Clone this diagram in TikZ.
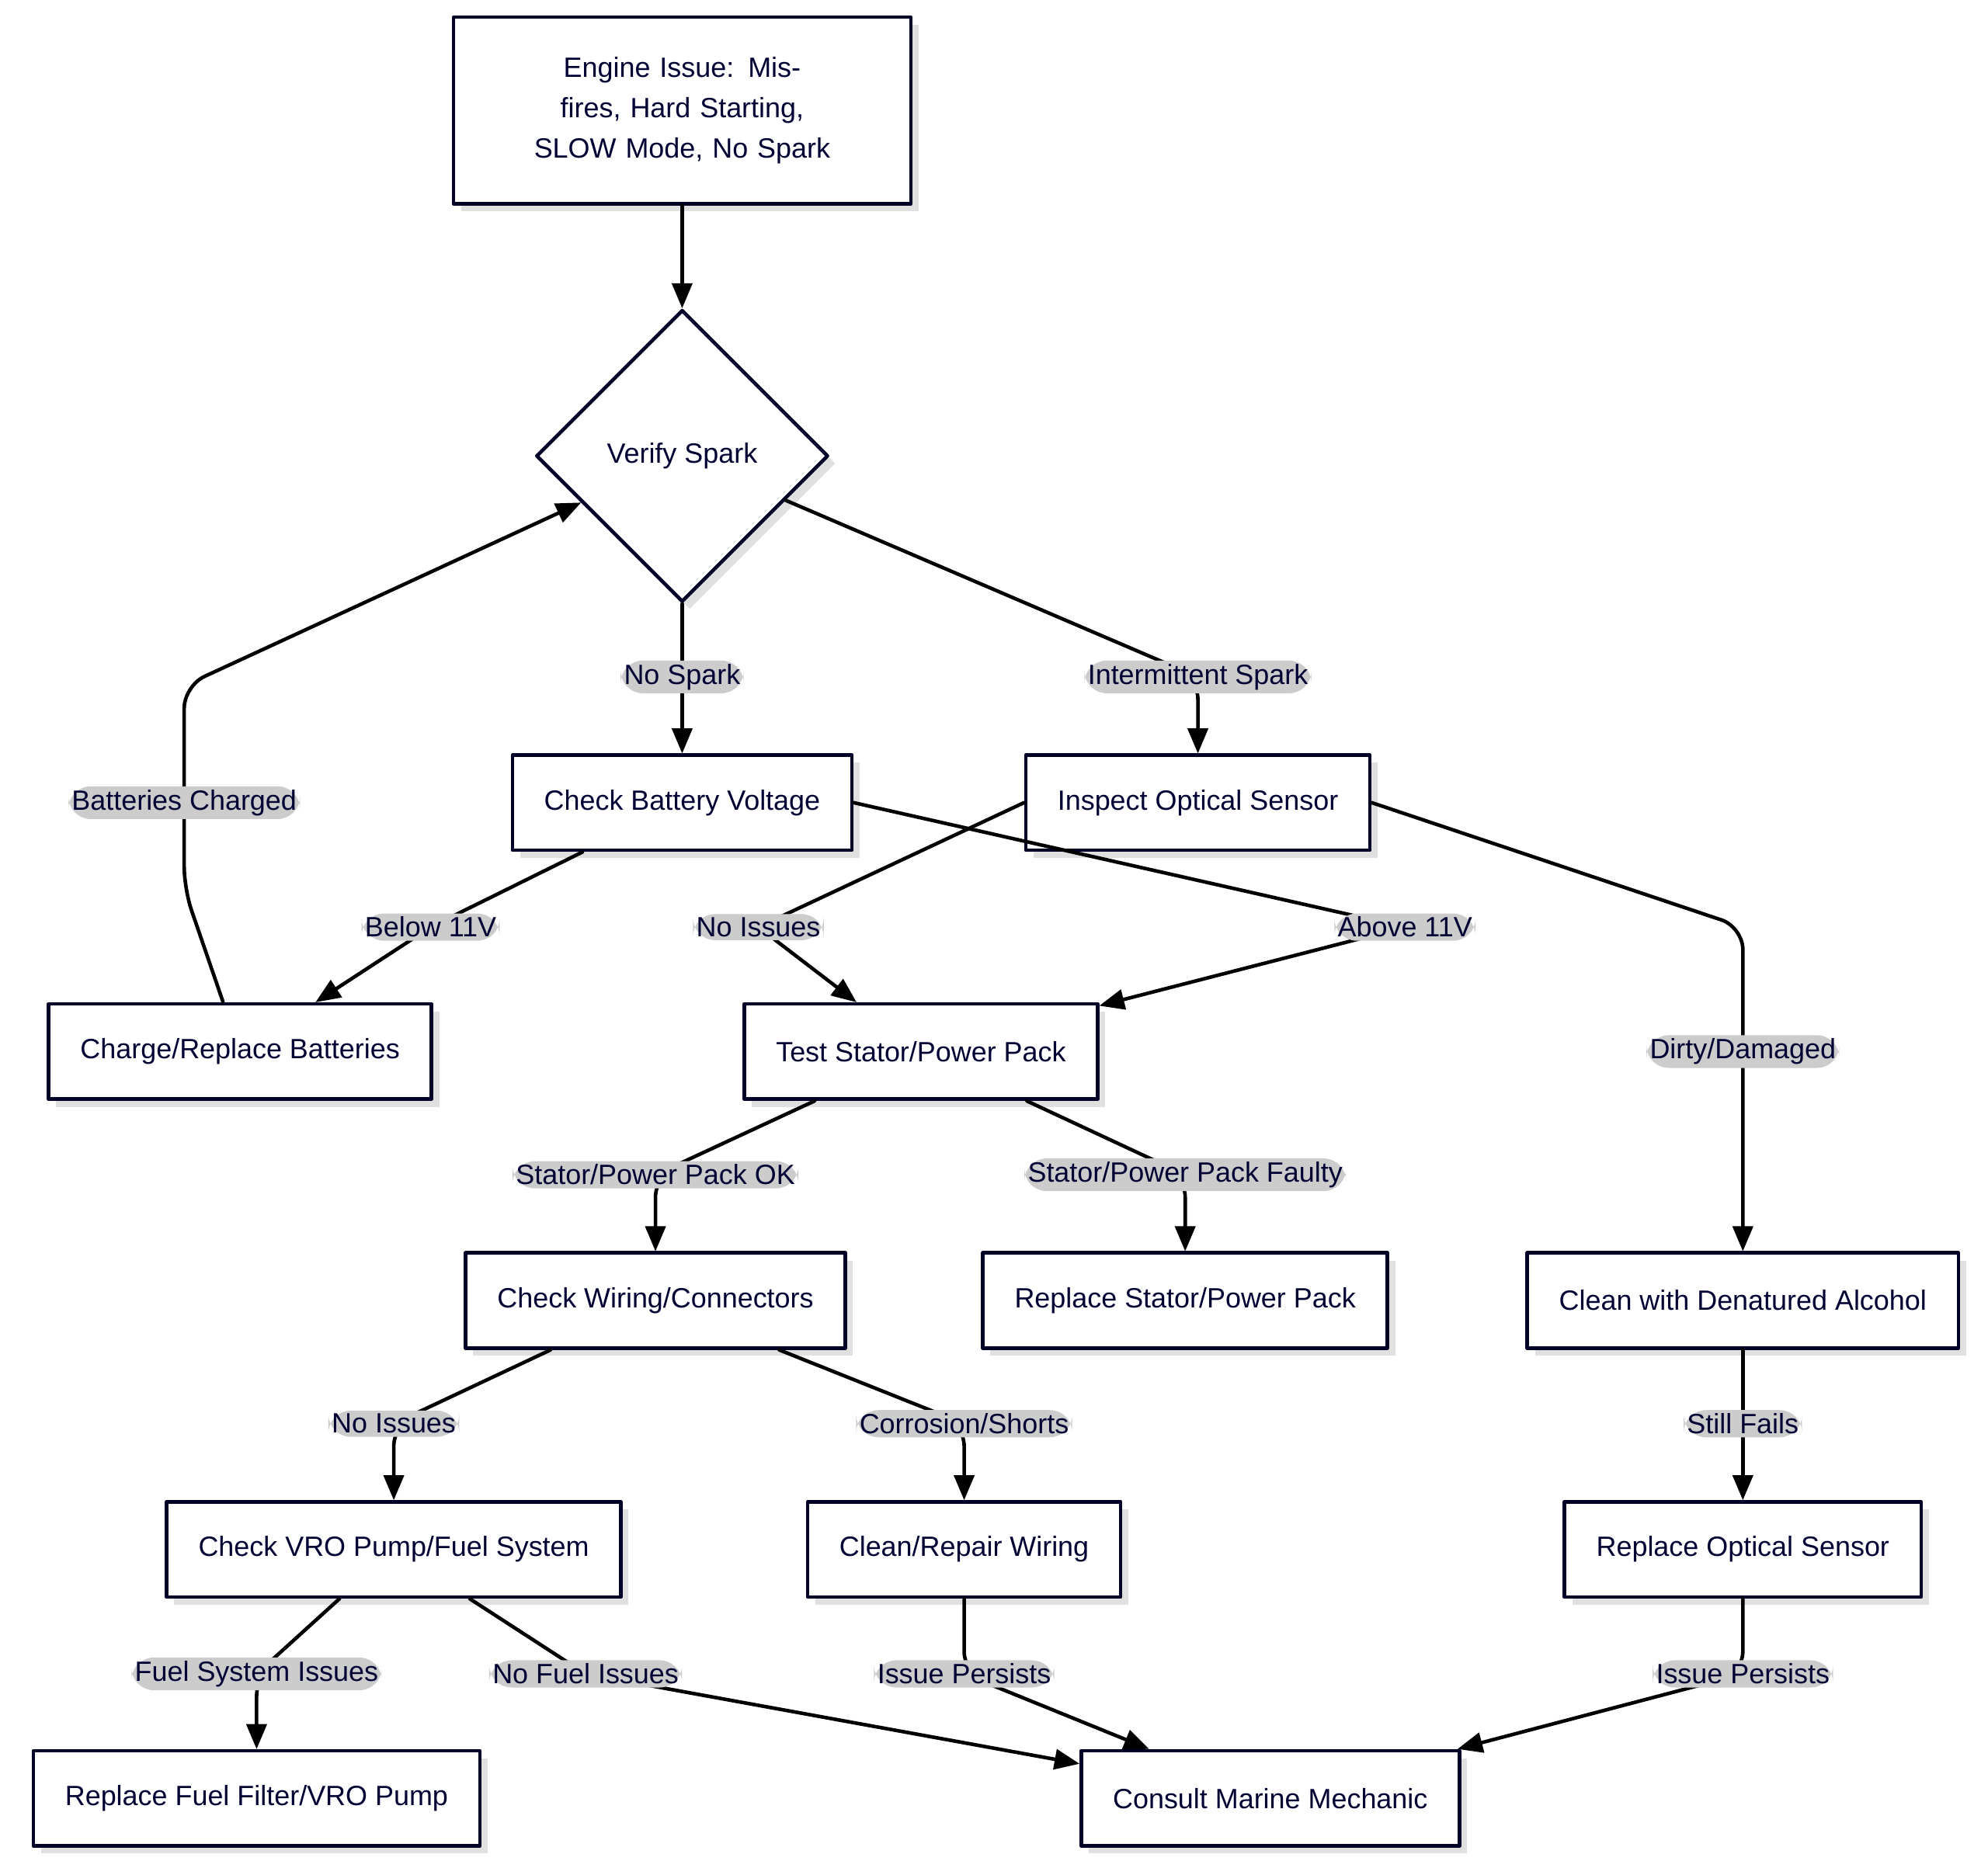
\documentclass[tikz,border=0pt]{standalone}
\usepackage{fontspec}
\setmainfont{Liberation Sans}
\usetikzlibrary{arrows}
\usetikzlibrary{shapes.geometric}

\tikzset{
  box/.style={draw=black!85!blue, line width=1.6pt, fill=white, minimum height=1.5cm, inner xsep=0.5cm, font=\fontsize{12.5}{18}\selectfont, text=black!80!blue,
    preaction={fill=black!12, draw=none, transform canvas={shift={(0.12cm,-0.12cm)}}}},
  choice/.style={box, diamond, aspect=1, minimum width=4.6cm, minimum height=4.6cm, inner sep=0pt},
  flow/.style={->, line width=1.6pt, rounded corners=10pt},
  lbl/.style={fill=black!20, inner sep=1.5pt, font=\fontsize{12.5}{15}\selectfont, text=black!80!blue}
}

\begin{document}
\begin{tikzpicture}[line cap=round,line join=round,>=triangle 45,x=0.02cm,y=-0.02cm]
\useasboundingbox (0,0) rectangle (1565,1465);
% nodes
\node[box, text width=6.2cm, align=center, minimum height=2.94cm] (issue) at (537,87) {Engine Issue: Misfires, Hard Starting, SLOW Mode, No Spark};
\node[choice] (spark) at (537,359) {Verify Spark};
\node[box] (battery) at (537,632) {Check Battery Voltage};
\node[box] (optical) at (943,632) {Inspect Optical Sensor};
\node[box] (charge) at (189,828) {Charge/Replace Batteries};
\node[box] (stator) at (725,828) {Test Stator/Power Pack};
\node[box] (alcohol) at (1372,1024) {Clean with Denatured Alcohol};
\node[box] (wiring) at (516,1024) {Check Wiring/Connectors};
\node[box] (newstator) at (933,1024) {Replace Stator/Power Pack};
\node[box] (vro) at (310,1220) {Check VRO Pump/Fuel System};
\node[box] (repair) at (759,1220) {Clean/Repair Wiring};
\node[box] (newsensor) at (1372,1220) {Replace Optical Sensor};
\node[box] (filter) at (202,1416) {Replace Fuel Filter/VRO Pump};
\node[box] (mechanic) at (1000,1416) {Consult Marine Mechanic};

% connectors
\draw[flow] (issue) -- (spark);
\draw[flow] (spark) -- (537,533) node[lbl] {No Spark} -- (battery);
\draw[flow] (spark) -- (943,533) node[lbl] {Intermittent Spark} -- (optical);
\draw[flow] (battery) -- (339,730) node[lbl] {Below 11V} -- (charge);
\draw[flow] (battery.east) -- (1106,730) node[lbl] {Above 11V} -- (stator);
\draw[flow] (optical.west) -- (597,730) node[lbl] {No Issues} -- (stator);
\draw[flow] (optical.east) -- (1372,730) -- (1372,828) node[lbl] {Dirty/Damaged} -- (alcohol);
\draw[flow] (charge) -- (145,700) -- (145,632) node[lbl] {Batteries Charged} -- (145,540) -- (spark);
\draw[flow] (stator) -- (516,925) node[lbl] {Stator/Power Pack OK} -- (wiring);
\draw[flow] (stator) -- (933,925) node[lbl] {Stator/Power Pack Faulty} -- (newstator);
\draw[flow] (wiring) -- (310,1121) node[lbl] {No Issues} -- (vro);
\draw[flow] (wiring) -- (759,1121) node[lbl] {Corrosion/Shorts} -- (repair);
\draw[flow] (alcohol) -- (1372,1121) node[lbl] {Still Fails} -- (newsensor);
\draw[flow] (vro) -- (202,1318) node[lbl] {Fuel System Issues} -- (filter);
\draw[flow] (vro) -- (461,1318) node[lbl] {No Fuel Issues} -- (mechanic);
\draw[flow] (repair) -- (759,1318) node[lbl] {Issue Persists} -- (mechanic);
\draw[flow] (newsensor) -- (1372,1318) node[lbl] {Issue Persists} -- (mechanic);
\end{tikzpicture}
\end{document}
